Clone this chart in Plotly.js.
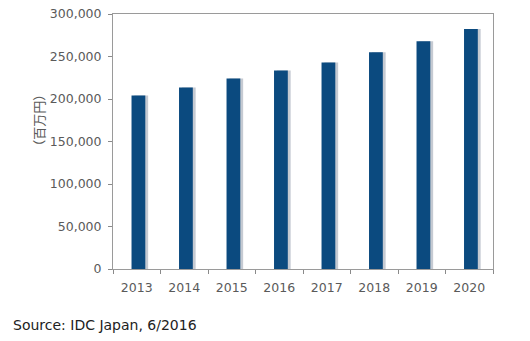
<!DOCTYPE html>
<html>
<head>
<meta charset="utf-8">
<script src="https://cdn.plot.ly/plotly-3.0.1.min.js"></script>
<style>html,body{margin:0;padding:0;background:#fff;}#chart{width:530px;height:341px;}</style>
</head>
<body>
<div id="chart"></div>
<script>
const years = ['2013','2014','2015','2016','2017','2018','2019','2020'];
const values = [204000, 213500, 224000, 233500, 243000, 255000, 268000, 282500];
const yTickVals = [0, 50000, 100000, 150000, 200000, 250000, 300000];
const yTitle = '（百万円）';
const sourceText = 'Source: IDC Japan, 6/2016';

const barColor = '#0b4a7f';
const shadowColor = '#c5cad2';

const shadow = {
  type: 'bar', x: years, y: values,
  marker: {color: shadowColor, line: {width: 0}},
  width: 0.29, offset: -0.05,
  hoverinfo: 'skip', showlegend: false
};
const bars = {
  type: 'bar', x: years, y: values,
  marker: {color: barColor, line: {width: 0}},
  width: 0.29, offset: -0.11,
  showlegend: false
};

const tickFont = {family: 'DejaVu Sans, Verdana, sans-serif', size: 12.5, color: '#5a5a5a'};

const layout = {
  width: 530, height: 341,
  margin: {l: 113, r: 37, t: 14, b: 72},
  paper_bgcolor: '#ffffff', plot_bgcolor: '#ffffff',
  barmode: 'overlay',
  showlegend: false,
  xaxis: {
    type: 'category',
    tickson: 'boundaries',
    ticks: 'outside', ticklen: 4, tickcolor: '#8a8a8a', tickwidth: 1,
    ticklabelstandoff: 7,
    showline: true, linecolor: '#9a9a9a', linewidth: 1, mirror: true,
    showgrid: false, zeroline: false,
    tickfont: tickFont
  },
  yaxis: {
    range: [0, 300000],
    tickvals: yTickVals,
    tickformat: ',',
    ticks: 'outside', ticklen: 4, tickcolor: '#8a8a8a', tickwidth: 1,
    ticklabelstandoff: 4,
    showline: true, linecolor: '#9a9a9a', linewidth: 1, mirror: true,
    showgrid: false, zeroline: false,
    tickfont: tickFont
  },
  annotations: [
    {
      text: yTitle, xref: 'paper', yref: 'paper',
      x: -0.198, y: 0.584, xanchor: 'center', yanchor: 'middle',
      textangle: -90, showarrow: false,
      font: {family: 'Noto Sans CJK JP, sans-serif', size: 13, color: '#5a5a5a'}
    },
    {
      text: sourceText, xref: 'paper', yref: 'paper',
      x: -0.268, y: -0.22, xanchor: 'left', yanchor: 'middle',
      showarrow: false,
      font: {family: 'DejaVu Sans, Verdana, sans-serif', size: 14, color: '#222222'}
    }
  ]
};

Plotly.newPlot('chart', [shadow, bars], layout, {staticPlot: true, displayModeBar: false});
</script>
</body>
</html>
